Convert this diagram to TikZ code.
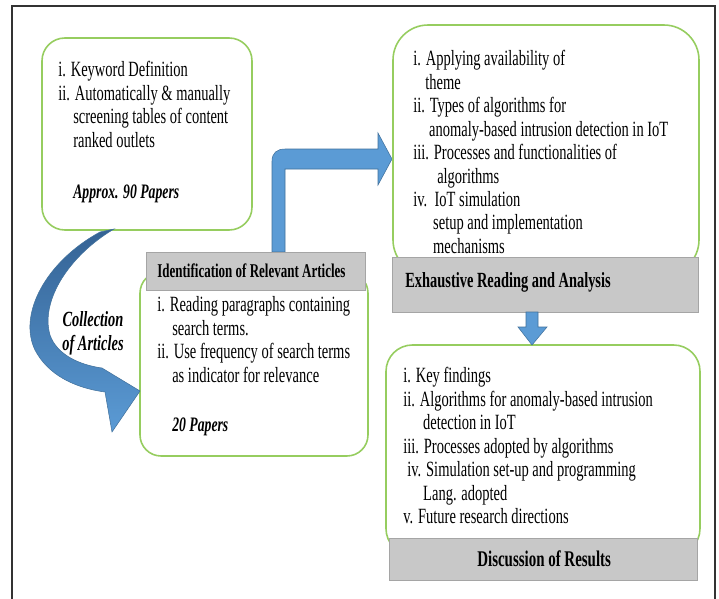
\documentclass[tikz,border=0pt]{standalone}
\usepackage{fontspec}
\setmainfont{Liberation Serif}
\usepackage{graphicx}
\definecolor{boxgreen}{RGB}{150,205,95}
\definecolor{hdrgray}{RGB}{200,200,200}
\definecolor{hdredge}{RGB}{165,165,165}
\definecolor{arrblue}{RGB}{91,155,213}
\definecolor{arrdark}{RGB}{65,113,156}
\definecolor{arrtop}{RGB}{52,98,148}
\newcommand{\stretchtxt}[1]{\scalebox{1}[1.5]{#1}}
\begin{document}
\begin{tikzpicture}[x=0.02cm,y=-0.02cm,
  gbox/.style={draw=boxgreen, line width=0.9pt, fill=white},
  hdr/.style={draw=hdredge, fill=hdrgray, line width=0.5pt},
  body/.style={anchor=north west, inner sep=0pt, font=\fontsize{8.25}{8.9}\selectfont},
  papers/.style={anchor=base west, inner sep=0pt, font=\fontsize{7.8}{9}\selectfont\bfseries\itshape},
  hdrtext/.style={anchor=base west, inner sep=0pt, font=\fontsize{8.2}{9}\selectfont\bfseries},
  blockarrow/.style={fill=arrblue, draw=arrdark, line width=0.3pt}]
\useasboundingbox (0,0) rectangle (719,598);
\clip (0,0) rectangle (719,598);
\fill[white] (0,0) rectangle (719,598);
\draw[line width=1.1pt, black!80] (12,620) -- (12,6) -- (715,6) -- (715,620);

% boxes
\draw[gbox, rounded corners=13pt] (42,38) rectangle (252,230);
\draw[blockarrow] (272,252) -- (272,161) .. controls (272,153) and (277,149) .. (285,149) -- (378,149) -- (378,133) -- (392,159) -- (378,185) -- (378,169) -- (285,169) -- (285,252) -- cycle;
\draw[gbox, rounded corners=12pt] (140,272) rectangle (368,456);
\draw[hdr] (146,252) rectangle (365,290);
\draw[gbox, rounded corners=20pt] (393,25) rectangle (699,275);
\draw[hdr] (392,257) rectangle (698,312);
\draw[gbox, rounded corners=15pt] (386,345) rectangle (700,555);
\draw[hdr] (389,538) rectangle (697,580);
\draw[blockarrow] (526,312) -- (526,327) -- (518,327) -- (532,345) -- (547,327) -- (538,327) -- (538,312) -- cycle;

% curved arrow
\shade[top color=arrtop, bottom color=arrblue, draw=arrdark, line width=0.3pt]
  (100,232) .. controls (45,262) and (18,315) .. (35,350)
  .. controls (48,375) and (75,388) .. (105,392) -- (112,432) -- (140,391) -- (102,368)
  .. controls (80,365) and (57,355) .. (50,335)
  .. controls (40,300) and (70,255) .. (114,229) -- cycle;

% texts
\node[body] (t1) at (58,60) {\stretchtxt{\begin{tabular}{@{}l@{}}i. Keyword Definition\\
ii. Automatically \& manually\\
\hspace*{8.5pt}screening tables of content\\
\hspace*{8.5pt}ranked outlets\end{tabular}}};
\node[papers] (p1) at (73,198) {\stretchtxt{Approx. 90 Papers}};

\node[hdrtext, font=\fontsize{7.4}{9}\selectfont\bfseries] (h1) at (157,277) {\stretchtxt{Identification of Relevant Articles}};
\node[body] (t2) at (157,295) {\stretchtxt{\begin{tabular}{@{}l@{}}i. Reading paragraphs containing\\
\hspace*{8.5pt}search terms.\\
ii. Use frequency of search terms\\
\hspace*{8.5pt}as indicator for relevance\end{tabular}}};
\node[papers] (p2) at (172,431) {\stretchtxt{20 Papers}};

\node[body] (t3) at (413,49) {\stretchtxt{\begin{tabular}{@{}l@{}}i. Applying availability of\\
\hspace*{6.8pt}theme\\
ii. Types of algorithms for\\
\hspace*{9pt}anomaly-based intrusion detection in IoT\\
iii. Processes and functionalities of\\
\hspace*{13.6pt}algorithms\\
iv.\ \ IoT simulation\\
\hspace*{11.3pt}setup and implementation\\
\hspace*{11.3pt}mechanisms\end{tabular}}};
\node[hdrtext] (h3) at (405,287) {\stretchtxt{Exhaustive Reading and Analysis}};

\node[body] (t4) at (403,366) {\stretchtxt{\begin{tabular}{@{}l@{}}i. Key findings\\
ii. Algorithms for anomaly-based intrusion\\
\hspace*{11.3pt}detection in IoT\\
iii. Processes adopted by algorithms\\
\hspace*{2.3pt}iv. Simulation set-up and programming\\
\hspace*{11.3pt}Lang. adopted\\
v. Future research directions\end{tabular}}};
\node[hdrtext, font=\fontsize{8.5}{9}\selectfont\bfseries] (h4) at (477,566) {\stretchtxt{Discussion of Results}};

\node[anchor=base, inner sep=0pt, font=\fontsize{8.2}{9}\selectfont\bfseries\itshape] (c1) at (93,326) {\stretchtxt{Collection}};
\node[anchor=base, inner sep=0pt, font=\fontsize{8.2}{9}\selectfont\bfseries\itshape] (c2) at (93,350) {\stretchtxt{of Articles}};
\end{tikzpicture}
\end{document}
